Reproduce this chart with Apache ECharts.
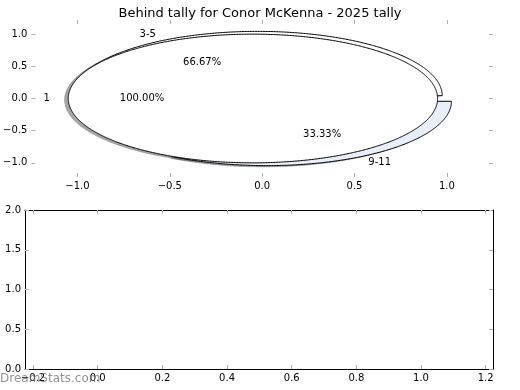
<!DOCTYPE html>
<html><head><meta charset="utf-8">
<script src="https://cdn.jsdelivr.net/npm/echarts@6/dist/echarts.min.js"></script>
<style>html,body{margin:0;padding:0;background:#fff}#c{width:520px;height:390px}</style>
</head><body><div id="c"></div>
<script>
const titleText = 'Behind tally for Conor McKenna - 2025 tally';
const outerLabels = ['1'];
const outerValues = [1];
const innerLabels = ['3-5', '9-11'];
const innerValues = [2, 1];
const topXTicks = [-1.0, -0.5, 0.0, 0.5, 1.0];
const topYTicks = [-1.0, -0.5, 0.0, 0.5, 1.0];
const bottomXTicks = [-0.2, 0.0, 0.2, 0.4, 0.6, 0.8, 1.0, 1.2];
const bottomYTicks = [0.0, 0.5, 1.0, 1.5, 2.0];
const watermark = 'DreamStats.com';

const innerColors = ['#ffffff', '#e8eefa'];
const outerColors = ['#ffffff'];
const EXPLODE = 0.05, LABEL_DIST = 1.1, PCT_DIST = 0.6, SHADOW = -0.02;
const FONT = '"DejaVu Sans", sans-serif';

function slices(labels, values, colors) {
  const total = values.reduce((a, b) => a + b, 0);
  let start = 0;
  return values.map((v, i) => {
    const span = v / total * 360;
    const mid = (start + span / 2) * Math.PI / 180;
    const s = {
      label: labels[i], pct: (v / total * 100).toFixed(2) + '%',
      t1: start, t2: start + span, color: colors[i], mid: mid,
      cx: EXPLODE * Math.cos(mid), cy: EXPLODE * Math.sin(mid)
    };
    start += span;
    return s;
  });
}
const innerSlices = slices(innerLabels, innerValues, innerColors);
const outerSlices = slices(outerLabels, outerValues, outerColors);
const allSlices = innerSlices.concat(outerSlices);

function wedgePoints(s, api, dx, dy) {
  const pts = [];
  const full = Math.abs(s.t2 - s.t1 - 360) < 1e-9;
  if (!full) pts.push(api.coord([s.cx + dx, s.cy + dy]));
  const n = Math.max(2, Math.ceil((s.t2 - s.t1) / 0.5));
  for (let k = 0; k <= n; k++) {
    const a = (s.t1 + (s.t2 - s.t1) * k / n) * Math.PI / 180;
    pts.push(api.coord([s.cx + dx + Math.cos(a), s.cy + dy + Math.sin(a)]));
  }
  return pts;
}
function shadowColor(hex) {
  const r = parseInt(hex.slice(1, 3), 16), g = parseInt(hex.slice(3, 5), 16), b = parseInt(hex.slice(5, 7), 16);
  return 'rgba(' + Math.round(r * 0.3) + ',' + Math.round(g * 0.3) + ',' + Math.round(b * 0.3) + ',0.5)';
}
function wedgeSeries(list, z, shadow) {
  return {
    type: 'custom', xAxisIndex: 0, yAxisIndex: 0, z: z, clip: false, silent: true,
    data: list.map((s, i) => [i, 0]),
    renderItem: function (params, api) {
      const s = list[params.dataIndex];
      if (shadow) {
        const c = shadowColor(s.color);
        return { type: 'polygon', shape: { points: wedgePoints(s, api, SHADOW, SHADOW) }, style: { fill: c, stroke: c, lineWidth: 0.5 } };
      }
      return { type: 'polygon', shape: { points: wedgePoints(s, api, 0, 0) }, style: { fill: s.color, stroke: '#000', lineWidth: 1 } };
    }
  };
}
const labelSeries = {
  type: 'custom', xAxisIndex: 0, yAxisIndex: 0, z: 6, clip: false, silent: true,
  data: allSlices.map((s, i) => [i, 0]),
  renderItem: function (params, api) {
    const s = allSlices[params.dataIndex];
    const c = Math.cos(s.mid), sn = Math.sin(s.mid);
    const lx = s.cx + LABEL_DIST * c, ly = s.cy + LABEL_DIST * sn;
    const lp = api.coord([lx, ly]);
    const pp = api.coord([s.cx + PCT_DIST * c, s.cy + PCT_DIST * sn]);
    const font = '10px ' + FONT;
    return { type: 'group', children: [
      { type: 'text', x: lp[0], y: lp[1], style: { text: s.label, font: font, fill: '#000', align: lx < 0 ? 'right' : 'left', verticalAlign: 'middle' } },
      { type: 'text', x: pp[0], y: pp[1], style: { text: s.pct, font: font, fill: '#000', align: 'center', verticalAlign: 'middle' } }
    ] };
  }
};

function fmt(v) { return v.toFixed(1).replace('-', '\u2212'); }
const tickLine = { color: '#b0b0b0', width: 1 };
function makeAxis(grid, pos, min, max, ticks, showLabel, showLine) {
  return {
    type: 'value', gridIndex: grid, position: pos, min: min, max: max,
    axisLine: { show: showLine, onZero: false, lineStyle: { color: '#000', width: 1 } },
    axisTick: { show: true, inside: true, length: 4, customValues: ticks, lineStyle: tickLine },
    axisLabel: { show: showLabel, customValues: ticks, formatter: fmt, margin: 4, color: '#000', fontSize: 10, fontFamily: FONT, showMinLabel: true, showMaxLabel: true },
    splitLine: { show: false }
  };
}

const chart = echarts.init(document.getElementById('c'), null, { renderer: 'canvas' });
chart.setOption({
  animation: false,
  backgroundColor: '#fff',
  title: { text: titleText, left: 'center', top: 2, textStyle: { fontSize: 13, fontWeight: 'normal', color: '#000', fontFamily: FONT } },
  grid: [
    { left: 25, top: 20, width: 468, height: 157, containLabel: false },
    { left: 25, top: 210, width: 468, height: 159, containLabel: false }
  ],
  xAxis: [
    makeAxis(0, 'bottom', -1.25, 1.25, topXTicks, true, false),
    makeAxis(0, 'top', -1.25, 1.25, topXTicks, false, false),
    makeAxis(1, 'bottom', -0.225, 1.2226, bottomXTicks, true, true),
    makeAxis(1, 'top', -0.225, 1.2226, bottomXTicks, false, true)
  ],
  yAxis: [
    makeAxis(0, 'left', -1.22, 1.22, topYTicks, true, false),
    makeAxis(0, 'right', -1.22, 1.22, topYTicks, false, false),
    makeAxis(1, 'left', 0, 2, bottomYTicks, true, true),
    makeAxis(1, 'right', 0, 2, bottomYTicks, false, true)
  ],
  graphic: [
    { type: 'text', left: 0, top: 373, z: 100, style: { text: watermark, fill: 'rgba(110,110,110,0.75)', font: '12px ' + FONT } }
  ],
  series: [
    wedgeSeries(allSlices, 1, true),
    wedgeSeries(innerSlices, 2, false),
    wedgeSeries(outerSlices, 3, false),
    labelSeries
  ]
});
</script>
</body></html>
